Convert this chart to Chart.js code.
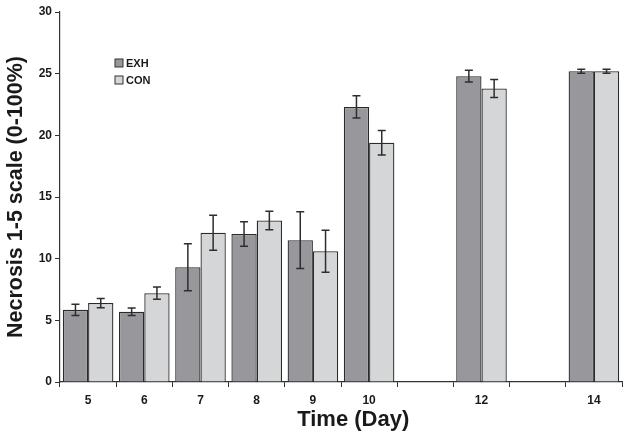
<!DOCTYPE html>
<html>
<head>
<meta charset="utf-8">
<script src="https://cdn.jsdelivr.net/npm/chart.js@4.4.1/dist/chart.umd.min.js"></script>
<style>
  html, body { margin: 0; padding: 0; background: #fff; }
  #wrap { width: 629px; height: 440px; position: relative; }
</style>
</head>
<body>
<div id="wrap"><canvas id="chart"></canvas></div>
<script>
// Days on the x axis (11 and 13 have no data, labels left blank)
const days = ['5', '6', '7', '8', '9', '10', '', '12', '', '14'];

const exhValues = [5.85, 5.7, 9.3, 12.0, 11.5, 22.3, null, 24.8, null, 25.2];
const exhErrors = [0.45, 0.3, 1.9, 1.0, 2.3, 0.9, null, 0.47, null, 0.16];

const conValues = [6.4, 7.2, 12.1, 13.1, 10.6, 19.4, null, 23.8, null, 25.2];
const conErrors = [0.37, 0.5, 1.42, 0.75, 1.7, 1.0, null, 0.73, null, 0.16];

const yTicks = [0, 5, 10, 15, 20, 25, 30];

// Draw error bars using the chart's own scales
const errorBars = {
  id: 'errorBars',
  afterDatasetsDraw(chart) {
    const ctx = chart.ctx;
    const y = chart.scales.y;
    chart.data.datasets.forEach((ds, i) => {
      const meta = chart.getDatasetMeta(i);
      meta.data.forEach((bar, j) => {
        const v = ds.data[j];
        const e = ds.errors[j];
        if (v == null || e == null) return;
        const top = y.getPixelForValue(v + e);
        const bot = y.getPixelForValue(v - e);
        ctx.save();
        ctx.strokeStyle = '#2e2e2e';
        ctx.lineWidth = 1.5;
        ctx.beginPath();
        ctx.moveTo(bar.x, top); ctx.lineTo(bar.x, bot);
        ctx.moveTo(bar.x - 4, top); ctx.lineTo(bar.x + 4, top);
        ctx.moveTo(bar.x - 4, bot); ctx.lineTo(bar.x + 4, bot);
        ctx.stroke();
        ctx.restore();
      });
    });
  }
};

// Legend placed inside the plot area, like the original
const innerLegend = {
  id: 'innerLegend',
  afterDraw(chart) {
    const ctx = chart.ctx;
    const x0 = chart.chartArea.left + 55;
    let y0 = chart.chartArea.top + 51;
    chart.data.datasets.forEach(ds => {
      ctx.save();
      ctx.fillStyle = ds.backgroundColor;
      ctx.strokeStyle = '#333';
      ctx.lineWidth = 1;
      ctx.fillRect(x0, y0 - 4, 8, 8);
      ctx.strokeRect(x0, y0 - 4, 8, 8);
      ctx.fillStyle = '#1a1a1a';
      ctx.font = 'bold 11px "Liberation Sans", Arial, sans-serif';
      ctx.textBaseline = 'middle';
      ctx.fillText(ds.label, x0 + 11, y0 + 0.5);
      ctx.restore();
      y0 += 17;
    });
  }
};

const ctx = document.getElementById('chart').getContext('2d');
new Chart(ctx, {
  type: 'bar',
  data: {
    labels: days,
    datasets: [
      {
        label: 'EXH',
        data: exhValues,
        errors: exhErrors,
        backgroundColor: '#98989c',
        borderColor: '#2a2a2a',
        borderWidth: 1.3,
        categoryPercentage: 0.9,
        barPercentage: 1.0
      },
      {
        label: 'CON',
        data: conValues,
        errors: conErrors,
        backgroundColor: '#d5d6d8',
        borderColor: '#2a2a2a',
        borderWidth: 1.3,
        categoryPercentage: 0.9,
        barPercentage: 1.0
      }
    ]
  },
  options: {
    responsive: true,
    maintainAspectRatio: false,
    animation: false,
    layout: { padding: { top: 12, right: 7, left: 0, bottom: 0 } },
    scales: {
      x: {
        afterFit(scale) { scale.height = 58; },
        grid: {
          display: true,
          drawOnChartArea: false,
          drawTicks: true,
          tickLength: 5,
          tickColor: '#333',
          offset: true
        },
        border: { display: true, color: '#333', width: 1.2 },
        ticks: {
          color: '#1a1a1a',
          font: { family: '"Liberation Sans", Arial, sans-serif', size: 12, weight: 'bold' },
          padding: 6
        },
        title: {
          display: true,
          // leading spaces nudge the title right, as in the original
          text: '    Time (Day)',
          color: '#1a1a1a',
          font: { family: '"Liberation Sans", Arial, sans-serif', size: 22, weight: 'bold' },
          padding: { top: 2, bottom: 7 }
        }
      },
      y: {
        min: 0,
        max: 30,
        afterFit(scale) { scale.width = 60; },
        afterBuildTicks(scale) { scale.ticks = yTicks.map(v => ({ value: v })); },
        grid: {
          display: true,
          drawOnChartArea: false,
          drawTicks: true,
          tickLength: 5,
          tickColor: '#333'
        },
        border: { display: true, color: '#333', width: 1.2 },
        ticks: {
          color: '#1a1a1a',
          font: { family: '"Liberation Sans", Arial, sans-serif', size: 12, weight: 'bold' },
          padding: 3
        },
        title: {
          display: true,
          text: 'Necrosis 1-5 scale (0-100%)',
          color: '#1a1a1a',
          font: { family: '"Liberation Sans", Arial, sans-serif', size: 21.5, weight: 'bold' },
          padding: { top: 3, bottom: 0 }
        }
      }
    },
    plugins: {
      legend: { display: false },
      tooltip: { enabled: false }
    }
  },
  plugins: [errorBars, innerLegend]
});
</script>
</body>
</html>
